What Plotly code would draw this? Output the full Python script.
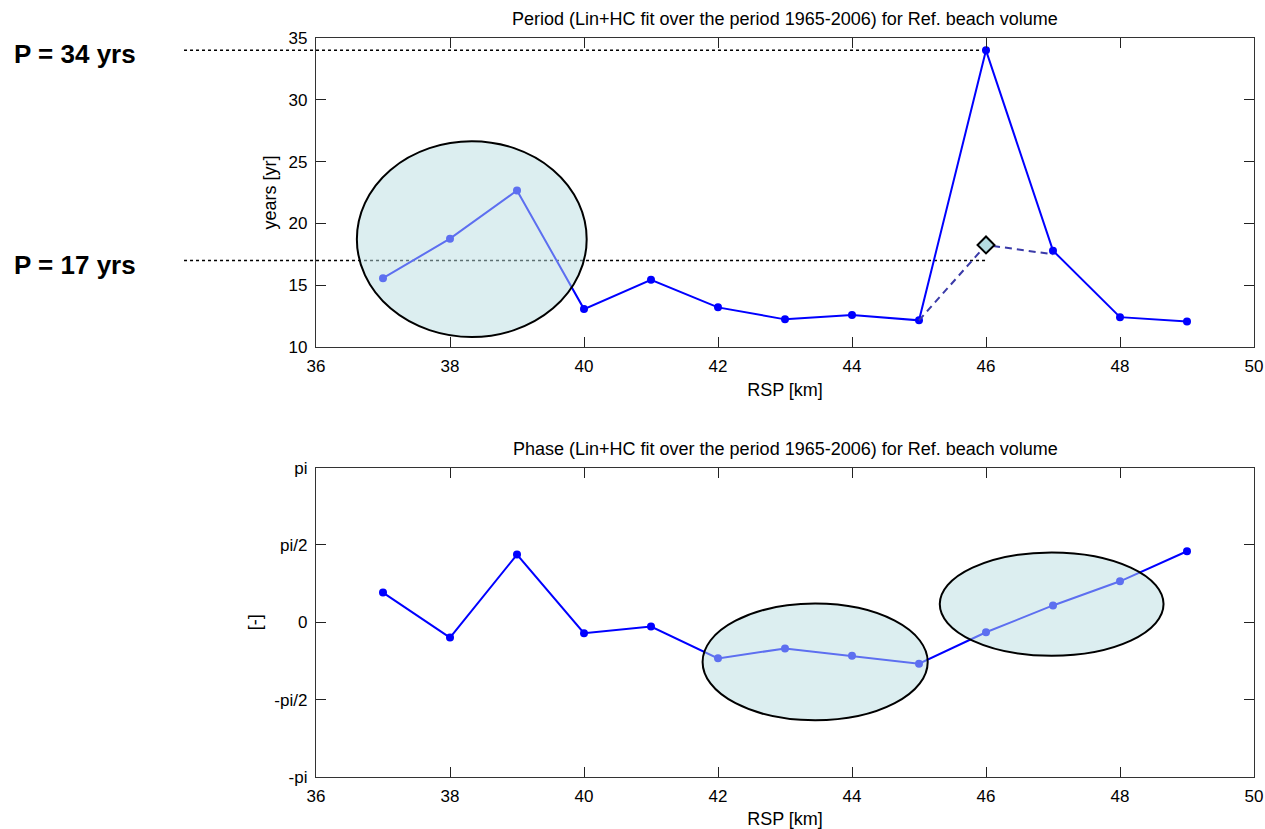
import math
import plotly.graph_objects as go
from plotly.subplots import make_subplots

# Cross-shore profile positions (RSP, km)
rsp_km = [37, 38, 39, 40, 41, 42, 43, 44, 45, 46, 47, 48, 49]

# Fitted period of the Ref. beach volume per transect [yr]
period_yr = [15.57, 18.77, 22.67, 13.07, 15.44, 13.21, 12.24, 12.59, 12.16, 34.0, 17.8, 12.42, 12.07]

# Alternative fit around RSP 46 (dashed branch, diamond at 46)
alt_rsp_km = [45, 46, 47]
alt_period_yr = [12.16, 18.26, 17.5]

# Fitted phase per transect [rad]
phase_rad = [0.604, -0.309, 1.376, -0.221, -0.087, -0.732, -0.531, -0.678, -0.840,
             -0.202, 0.343, 0.833, 1.444]

p_levels = [34, 17]
p_labels = ["P = 34 yrs", "P = 17 yrs"]
p_at_rsp = 46

# Highlight ellipses: (x0, x1, y0, y1) in data units of each panel
period_ellipses = [(36.61, 40.04, 10.81, 26.65)]
phase_ellipses = [(41.77, 45.13, -1.99, 0.38), (45.31, 48.65, -0.68, 1.42)]

x_range = [36, 50]
x_ticks = [36, 38, 40, 42, 44, 46, 48, 50]
period_range = [10, 35]
period_ticks = [10, 15, 20, 25, 30, 35]
phase_ticks = [-math.pi, -math.pi / 2, 0, math.pi / 2, math.pi]
phase_tick_text = ["-pi", "-pi/2", "0", "pi/2", "pi"]

FONT = "Liberation Sans, Arial, sans-serif"
BLUE = "#0000FF"
ELLIPSE_FILL = "rgba(185,221,226,0.5)"

fig = make_subplots(rows=2, cols=1)

fig.add_trace(go.Scatter(
    x=rsp_km, y=period_yr, mode="lines+markers",
    line=dict(color=BLUE, width=2), marker=dict(color=BLUE, size=8),
    showlegend=False), row=1, col=1)

fig.add_trace(go.Scatter(
    x=alt_rsp_km, y=alt_period_yr, mode="lines",
    line=dict(color="#3A3AA8", width=2, dash="7px,5px"),
    showlegend=False), row=1, col=1)

mid = alt_rsp_km.index(p_at_rsp)
fig.add_trace(go.Scatter(
    x=[alt_rsp_km[mid]], y=[alt_period_yr[mid]], mode="markers",
    marker=dict(symbol="diamond", size=13, color="#B4DCE1",
                line=dict(color="black", width=2)),
    showlegend=False), row=1, col=1)

fig.add_trace(go.Scatter(
    x=rsp_km, y=phase_rad, mode="lines+markers",
    line=dict(color=BLUE, width=2), marker=dict(color=BLUE, size=8),
    showlegend=False), row=2, col=1)

# Dotted reference lines from the left margin to RSP 46, with bold labels
x_end = (p_at_rsp - x_range[0]) / (x_range[1] - x_range[0])
for lvl, txt in zip(p_levels, p_labels):
    fig.add_shape(type="line", xref="paper", yref="y", x0=-0.1407, x1=x_end,
                  y0=lvl, y1=lvl, line=dict(color="black", width=1.5, dash="dot"),
                  layer="below")
    fig.add_annotation(xref="paper", yref="y", x=-0.324, y=lvl, yshift=-4,
                       text=f"<b>{txt}</b>", showarrow=False, xanchor="left",
                       font=dict(family=FONT, size=26, color="black"))

for (x0, x1, y0, y1) in period_ellipses:
    fig.add_shape(type="circle", xref="x", yref="y", x0=x0, x1=x1, y0=y0, y1=y1,
                  fillcolor=ELLIPSE_FILL, line=dict(color="black", width=2), layer="above")
for (x0, x1, y0, y1) in phase_ellipses:
    fig.add_shape(type="circle", xref="x2", yref="y2", x0=x0, x1=x1, y0=y0, y1=y1,
                  fillcolor=ELLIPSE_FILL, line=dict(color="black", width=2), layer="above")

axis_common = dict(
    showgrid=False, zeroline=False, showline=True, linecolor="#333333", linewidth=1.3,
    mirror="ticks", ticks="inside", ticklen=10, tickwidth=1, tickcolor="#222222",
    tickfont=dict(family=FONT, size=17, color="black"), automargin=False,
)
title_font = dict(family=FONT, size=18, color="black")

fig.update_xaxes(range=x_range, tickvals=x_ticks, ticklabelstandoff=3,
                 title=dict(text="RSP [km]", standoff=8, font=title_font),
                 **axis_common)
fig.update_yaxes(range=period_range, tickvals=period_ticks, ticklabelstandoff=4,
                 domain=[0.5818, 1.0],
                 title=dict(text="years [yr]", standoff=7, font=title_font),
                 row=1, col=1, **axis_common)
fig.update_yaxes(range=[-math.pi, math.pi], tickvals=phase_ticks, ticktext=phase_tick_text,
                 ticklabelstandoff=4, domain=[0.0, 0.4186],
                 title=dict(text="[-]", standoff=8, font=title_font),
                 row=2, col=1, **axis_common)

titles = [
    "Period (Lin+HC fit over the period 1965-2006) for Ref. beach volume",
    "Phase (Lin+HC fit over the period 1965-2006) for Ref. beach volume",
]
for i, t in enumerate(titles):
    sfx = "" if i == 0 else "2"
    fig.add_annotation(xref=f"x{sfx} domain", yref=f"y{sfx} domain",
                       x=0.5, y=1.0, yshift=7, yanchor="bottom", text=t, showarrow=False,
                       font=title_font)

fig.update_layout(
    width=1265, height=829,
    margin=dict(l=316, r=11, t=38, b=52),
    paper_bgcolor="white", plot_bgcolor="white",
    font=dict(family=FONT, size=17, color="black"),
)

fig.write_html("out.html")
